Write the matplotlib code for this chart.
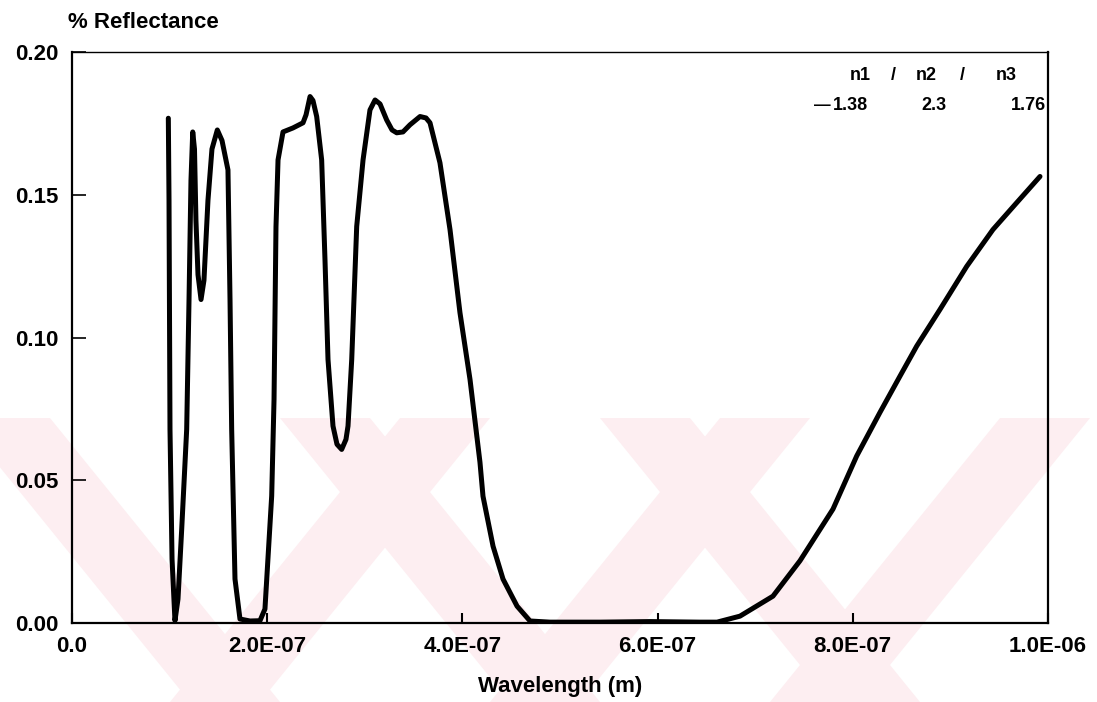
import numpy as np
import matplotlib.pyplot as plt
from matplotlib.patches import Polygon
from matplotlib.ticker import FuncFormatter

plt.rcParams['font.family'] = ['Liberation Sans', 'DejaVu Sans']
plt.rcParams['font.weight'] = 'bold'

# wavelength in nm, reflectance (fraction)
wavelength_nm = [98.7, 99.4, 100.4, 102.5, 105.5, 108.6, 112.4, 117.5, 119.9, 121.9,
                 123.7, 125.5, 127.0, 129.1, 132.2, 135.2, 139.3, 143.4, 148.9, 153.7,
                 159.8, 161.9, 163.6, 167.0, 172.1, 182.4, 192.6, 197.7, 204.6, 207.0,
                 209.0, 211.1, 216.2, 226.4, 236.7, 239.8, 243.9, 246.9, 250.7, 255.8,
                 259.2, 262.3, 267.4, 271.5, 276.3, 280.7, 282.8, 286.6, 291.7, 298.2,
                 305.3, 310.5, 315.6, 322.4, 327.9, 332.7, 339.1, 346.3, 356.6, 362.7,
                 366.8, 377.0, 387.3, 397.5, 407.8, 418.0, 421.1, 431.4, 441.6, 456.0,
                 469.3, 489.8, 541.0, 592.0, 643.0, 660.9, 684.4, 718.2, 745.9, 779.7,
                 804.0, 827.9, 848.4, 865.5, 889.3, 916.7, 943.6, 967.9, 991.8]
reflectance = [0.1768, 0.148, 0.0678, 0.0224, 0.0008, 0.0084, 0.0329, 0.0678, 0.1133, 0.155,
               0.172, 0.166, 0.141, 0.122, 0.1133, 0.120, 0.148, 0.166, 0.1727, 0.169,
               0.1587, 0.1133, 0.0678, 0.0154, 0.0014, 0.0007, 0.0008, 0.0049, 0.0445, 0.0783,
               0.1388, 0.1622, 0.172, 0.1734, 0.1752, 0.178, 0.1844, 0.183, 0.1774, 0.1622,
               0.1273, 0.0923, 0.069, 0.0626, 0.0608, 0.0643, 0.069, 0.0923, 0.1389, 0.1622,
               0.1797, 0.1832, 0.1818, 0.1762, 0.1727, 0.1717, 0.172, 0.1745, 0.1774, 0.1769,
               0.1752, 0.1612, 0.1378, 0.1087, 0.0853, 0.0563, 0.0444, 0.0269, 0.0154, 0.0059,
               0.0007, 0.0003, 0.0003, 0.0005, 0.0003, 0.0003, 0.0024, 0.0094, 0.0218, 0.0399,
               0.0585, 0.0738, 0.0865, 0.097, 0.1098, 0.1249, 0.1378, 0.1472, 0.1564]

x_ticks = [0, 2e-7, 4e-7, 6e-7, 8e-7, 1e-6]
y_ticks = [0.0, 0.05, 0.10, 0.15, 0.20]
legend_head = ['n1', '/', 'n2', '/', 'n3']
legend_vals = ['1.38', '2.3', '1.76']

W, H = 1097, 702
fig = plt.figure(figsize=(W / 100, H / 100), dpi=100)

# faint pink watermark stripes in the lower part of the scan
wm_top, wm_bot = 418, 702
wm = []
for x0 in [-40, 280, 600]:
    wm.append([(x0, wm_top), (x0 + 90, wm_top), (x0 + 320, wm_bot), (x0 + 230, wm_bot)])
for x0 in [400, 720, 1000]:
    wm.append([(x0, wm_top), (x0 + 90, wm_top), (x0 - 140, wm_bot), (x0 - 230, wm_bot)])
for pts in wm:
    fig.patches.append(Polygon([(px / W, 1 - py / H) for px, py in pts], closed=True,
                               transform=fig.transFigure, facecolor='#fdeef1',
                               edgecolor='none', zorder=-5))

ax = fig.add_axes([72 / W, 1 - 623 / H, (1048 - 72) / W, (623 - 52) / H])
ax.set_zorder(2)
ax.patch.set_alpha(0)

wl = np.array(wavelength_nm) * 1e-9
ax.plot(wl, reflectance, color='black', lw=3.6, solid_joinstyle='round',
        solid_capstyle='round')

ax.set_xlim(0, 1e-6)
ax.set_ylim(0, 0.2)
ax.set_xticks(x_ticks)
ax.set_yticks(y_ticks)
ax.xaxis.set_major_formatter(FuncFormatter(lambda v, p: '0.0' if v == 0 else f'{v:.1E}'))
ax.yaxis.set_major_formatter(FuncFormatter(lambda v, p: f'{v:.2f}'))
ax.tick_params(axis='x', direction='in', length=7, width=1.5, pad=9, labelsize=16)
ax.tick_params(axis='y', direction='in', length=10, width=1.2, pad=10, labelsize=16)
for s in ax.spines.values():
    s.set_linewidth(1.6)
ax.spines['top'].set_linewidth(1.0)

ax.set_xlabel('Wavelength (m)', fontsize=16, fontweight='bold', labelpad=14)
fig.text(68 / W, 1 - 22 / H, '% Reflectance', fontsize=16, fontweight='bold',
         ha='left', va='center')

# legend block in the top right
def ax_xy(px, py):
    return (px - 72) / 976, (623 - py) / 571

for txt, cx in zip(legend_head, [860, 893, 926, 962, 1006]):
    ax.text(*ax_xy(cx, 76), txt, transform=ax.transAxes, fontsize=13,
            fontweight='bold', ha='center', va='center')
ax.text(*ax_xy(822, 105), '\u2014', transform=ax.transAxes, fontsize=12,
        ha='center', va='center')
ax.text(*ax_xy(850, 105), legend_vals[0], transform=ax.transAxes, fontsize=13,
        fontweight='bold', ha='center', va='center')
ax.text(*ax_xy(934, 105), legend_vals[1], transform=ax.transAxes, fontsize=13,
        fontweight='bold', ha='center', va='center')
ax.text(*ax_xy(1046, 105), legend_vals[2], transform=ax.transAxes, fontsize=13,
        fontweight='bold', ha='right', va='center')

fig.savefig('out.png', dpi=100)
